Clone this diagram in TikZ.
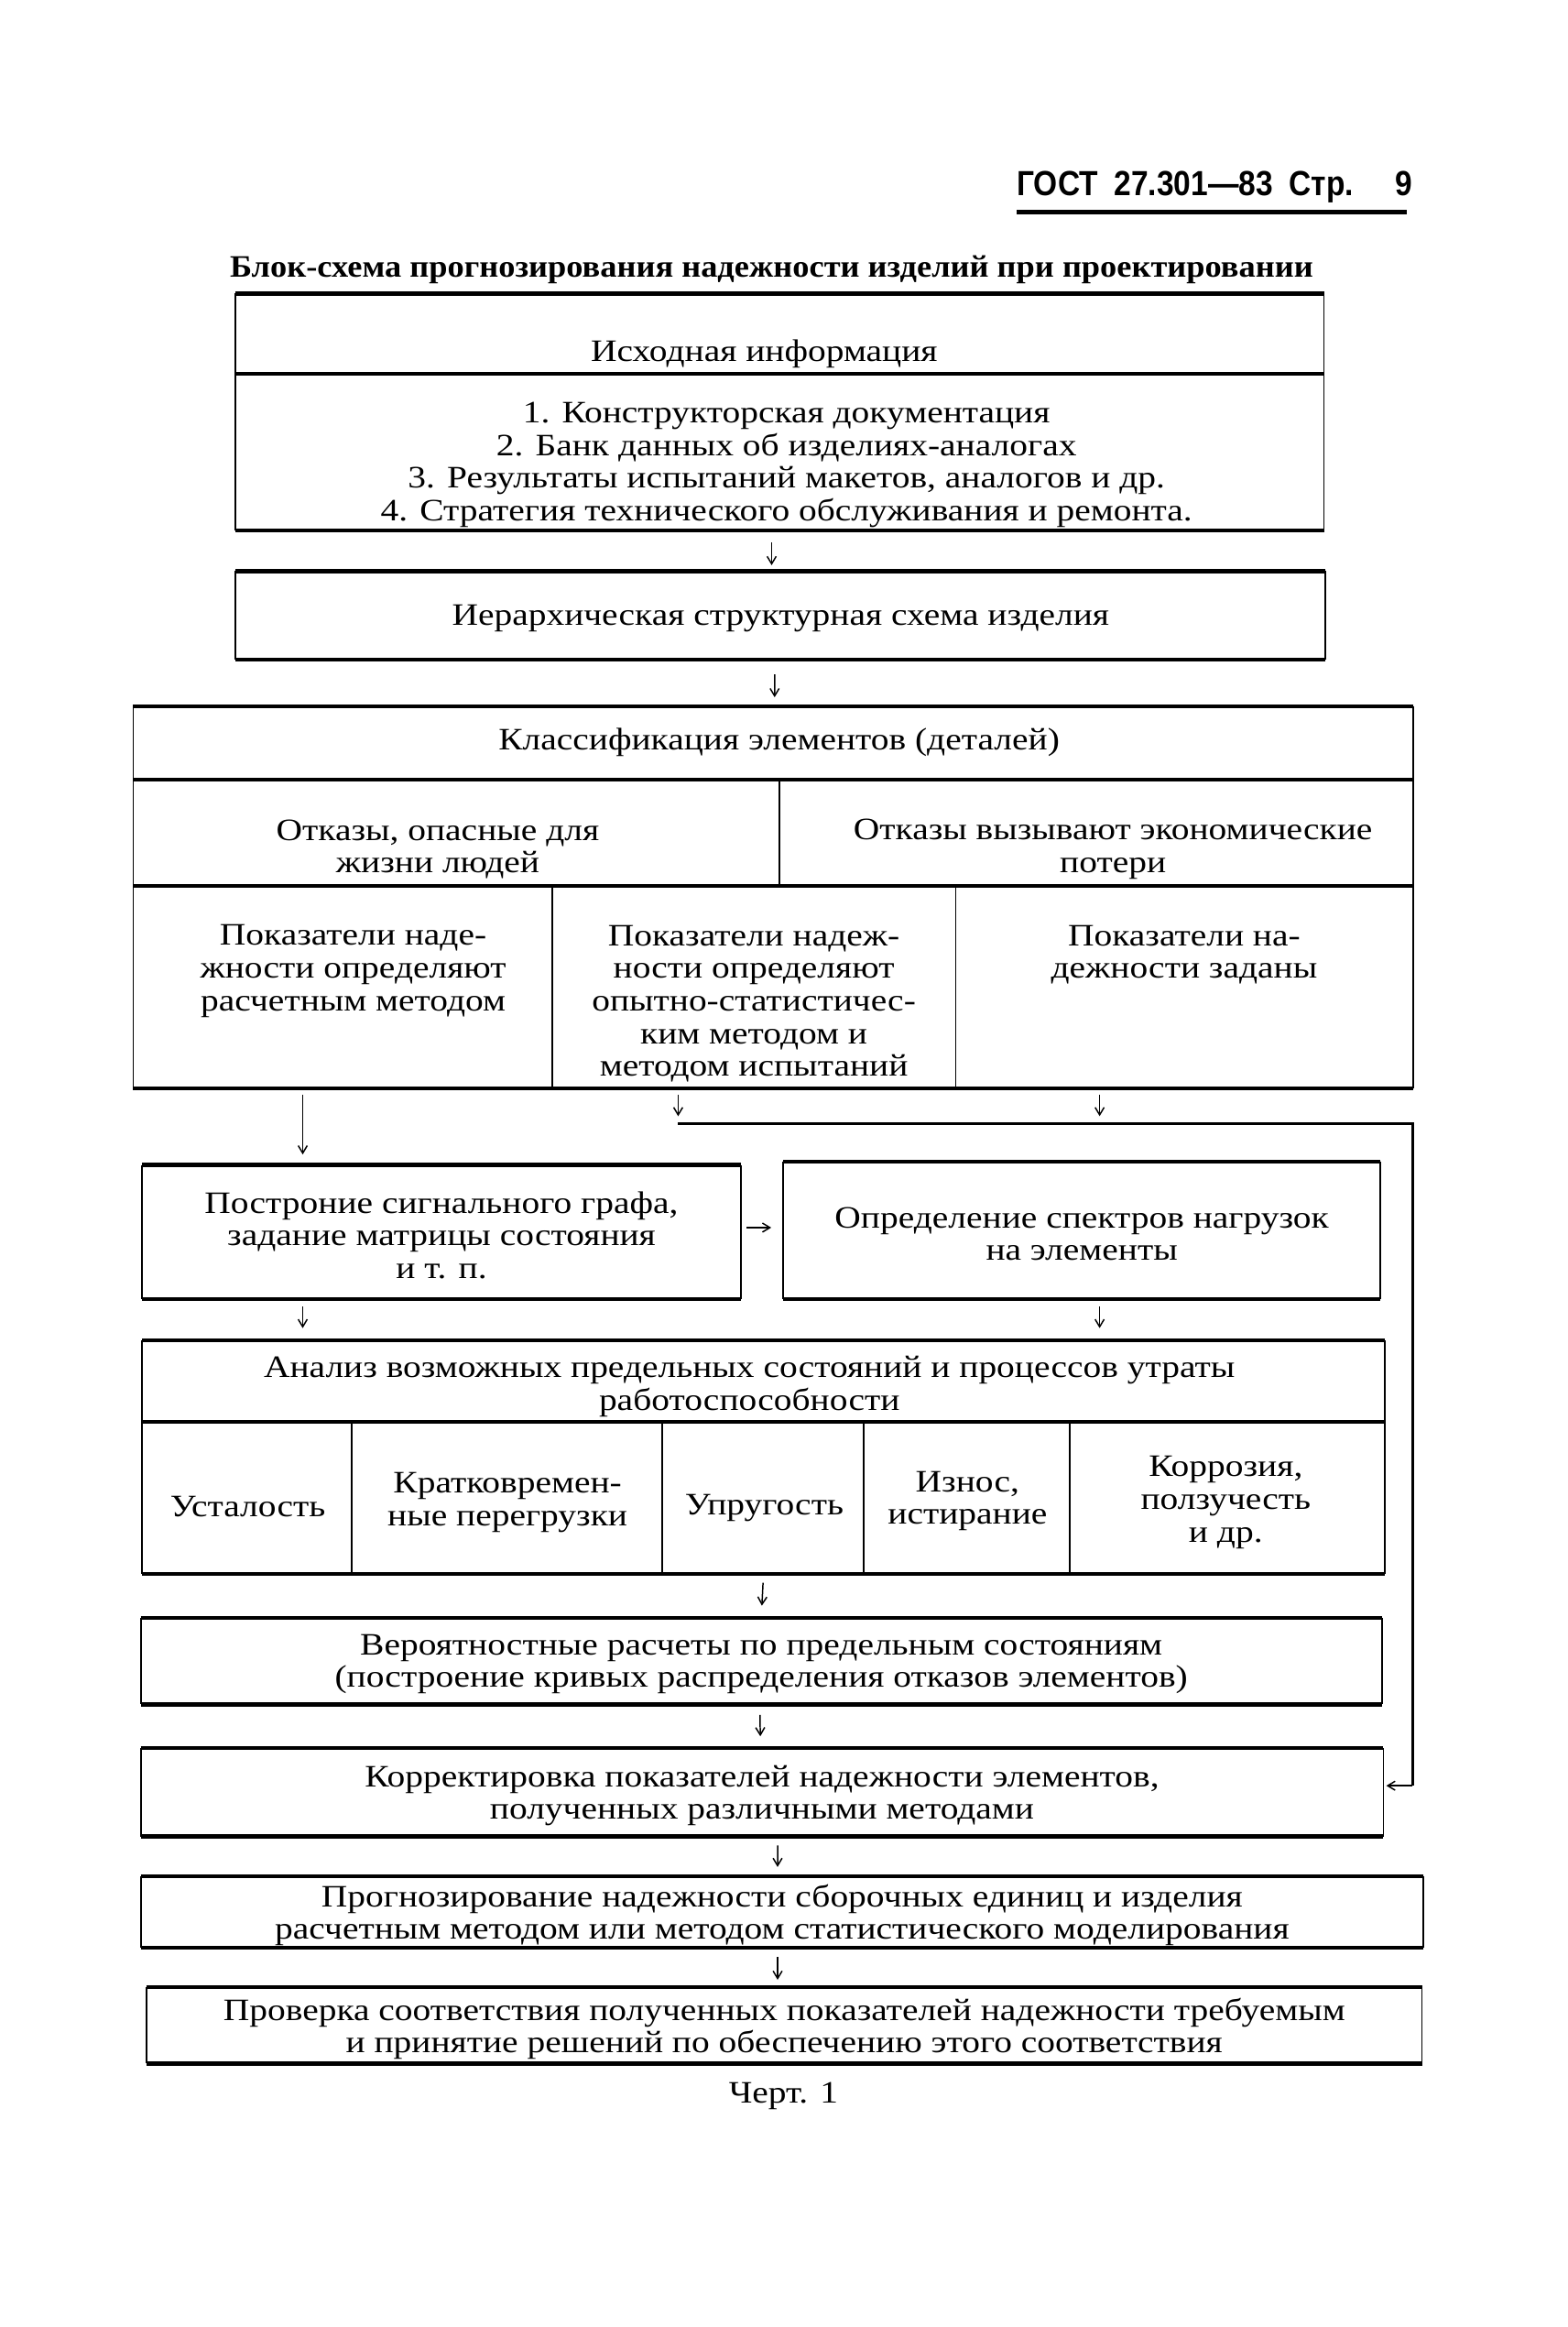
\documentclass[tikz,border=0pt]{standalone}
\usepackage{fontspec}
\usepackage{graphicx}
\usetikzlibrary{arrows.meta}
\setmainfont{Liberation Serif}
\newfontfamily\bodyf[FakeStretch=1.16]{Liberation Serif}
\newfontfamily\titlef[FakeStretch=1.07]{Liberation Serif}
\newfontfamily\headf[FakeStretch=0.88]{Liberation Sans}
\newcommand\gostframe[1]{%
  \draw[hl] (#1.north west) -- (#1.north east);
  \draw[hl] (#1.south west) -- (#1.south east);
  \draw[vl] (#1.north west) -- (#1.south west);
  \draw[vl] (#1.north east) -- (#1.south east);}
\begin{document}
\begin{tikzpicture}[x=1pt,y=-1pt,scale=0.99,transform shape,
  hl/.style={line width=2.6pt},
  vl/.style={line width=1.1pt},
  arr/.style={line width=0.9pt,-{Straight Barb[length=5pt,width=6pt]}},
  txt/.style={font=\bodyf\fontsize{21}{22}\selectfont, align=center, inner sep=0pt},
  lbl/.style={txt, yshift=-2.2pt},
  frm/.style={draw=none, inner sep=0pt}]
\fill[white] (0,0) rectangle (1056.57,1567.68);
\useasboundingbox (0,0) rectangle (1056.57,1567.68);

% guide coordinates
\coordinate (xL) at (204,0);
\coordinate (xM) at (457,0);
\coordinate (xR) at (741,0);

% header
\node[anchor=base east, inner sep=0pt, font=\headf\bfseries\fontsize{23.5}{26}\selectfont] (hdr) at (952,132) {ГОСТ\hspace{11pt}27.301—83\hspace{11pt}Стр.\hspace{28pt}9};
\draw[line width=3pt] (hdr.west |- 0,143) -- (948,143);
\node[inner sep=0pt, font=\titlef\bfseries\fontsize{21}{24}\selectfont] (title) at (520,182) {Блок-схема прогнозирования надежности изделий при проектировании};

% box A
\node[frm, minimum width=733pt, minimum height=159pt] (boxA) at (525.5,277.5) {};
\gostframe{boxA}
\draw[hl] (boxA.west |- 0,252) -- (boxA.east |- 0,252);
\node[lbl] (tA1) at (515,236) {Исходная информация};
\node[lbl] (tA2) at (530,311) {1. Конструкторская документация\\2. Банк данных об изделиях-аналогах\\3. Результаты испытаний макетов, аналогов и др.\\4. Стратегия технического обслуживания и ремонта.};

% box B
\node[frm, minimum width=734pt, minimum height=59pt] (boxB) at (526,414.5) {};
\gostframe{boxB}
\node[lbl] (tB) at (boxB.center) {Иерархическая структурная схема изделия};

% box C
\node[frm, minimum width=862pt, minimum height=257pt] (boxC) at (521,604.5) {};
\gostframe{boxC}
\draw[hl] (boxC.west |- 0,525) -- (boxC.east |- 0,525);
\draw[hl] (boxC.west |- 0,597) -- (boxC.east |- 0,597);
\draw[vl] (525,525) -- (525,597);
\draw[vl] (372,597) -- (372,733);
\draw[vl] (644,597) -- (644,733);
\node[lbl] (tC1) at (525,498) {Классификация элементов (деталей)};
\node[lbl] (tC2) at (295,570) {Отказы, опасные для\\жизни людей};
\node[lbl] (tC3) at (750,570) {Отказы вызывают экономические\\потери};
\node[lbl] (tC4) at (238,652) {Показатели наде-\\жности определяют\\расчетным методом};
\node[lbl] (tC5) at (508,674) {Показатели надеж-\\ности определяют\\опытно-статистичес-\\ким методом и\\методом испытаний};
\node[lbl] (tC6) at (798,641) {Показатели на-\\дежности заданы};

% boxes D, E
\node[frm, minimum width=403pt, minimum height=90pt] (boxD) at (297.5,830) {};
\gostframe{boxD}
\node[lbl] (tD) at (boxD.center) {Построние сигнального графа,\\задание матрицы состояния\\и т. п.};
\node[frm, minimum width=402pt, minimum height=92pt] (boxE) at (729,829) {};
\gostframe{boxE}
\node[lbl] (tE) at (boxE.center) {Определение спектров нагрузок\\на элементы};

% box F
\node[frm, minimum width=837pt, minimum height=157pt] (boxF) at (514.5,981.5) {};
\gostframe{boxF}
\draw[hl] (boxF.west |- 0,958) -- (boxF.east |- 0,958);
\foreach \xx in {237,446,582,721} \draw[vl] (\xx,958) -- (\xx,1060);
\node[lbl] (tF0) at (505,932) {Анализ возможных предельных состояний и процессов утраты\\работоспособности};
\node[lbl] (tF1) at (167,1013) {Усталость};
\node[lbl] (tF2) at (342,1010) {Кратковремен-\\ные перегрузки};
\node[lbl] (tF3) at (515,1014) {Упругость};
\node[lbl] (tF4) at (652,1009) {Износ,\\истирание};
\node[lbl] (tF5) at (826,1010) {Коррозия,\\ползучесть\\и др.};

% box G
\node[frm, minimum width=836pt, minimum height=58pt] (boxG) at (513,1119) {};
\gostframe{boxG}
\node[lbl] (tG) at (boxG.center) {Вероятностные расчеты по предельным состояниям\\(построение кривых распределения отказов элементов)};
% box H
\node[frm, minimum width=837pt, minimum height=59pt] (boxH) at (513.5,1207.5) {};
\gostframe{boxH}
\node[lbl] (tH) at (boxH.center) {Корректировка показателей надежности элементов,\\полученных различными методами};
% box I
\node[frm, minimum width=864pt, minimum height=48pt] (boxI) at (527,1288) {};
\gostframe{boxI}
\node[lbl] (tI) at (boxI.center) {Прогнозирование надежности сборочных единиц и изделия\\расчетным методом или методом статистического моделирования};
% box J
\node[frm, minimum width=859pt, minimum height=51pt] (boxJ) at (528.5,1364.5) {};
\gostframe{boxJ}
\node[lbl] (tJ) at (boxJ.center) {Проверка соответствия полученных показателей надежности требуемым\\и принятие решений по обеспечению этого соответствия};

\node[lbl] (cap) at (528,1410) {Черт. 1};

% connectors
\draw[arr, shorten <=8pt, shorten >=4pt] ([xshift=-5.5pt]boxA.south) -- ([xshift=-6pt]boxB.north);
\draw[arr, shorten <=10pt, shorten >=6pt] ([xshift=-4pt]boxB.south) -- ([xshift=1pt]boxC.north);
\draw[arr, shorten <=4pt, shorten >=7pt] (boxC.south -| xL) -- (boxD.north -| xL);
\coordinate (bus1) at (457,757);
\coordinate (bus2) at (952,757);
\coordinate (bus3) at (952,1203);
\draw[arr, shorten <=4pt, shorten >=5pt] (boxC.south -| xM) -- (bus1);
\draw[arr, shorten <=4pt, shorten >=5pt] (boxC.south -| xR) -- (xR |- bus1);
\draw[line width=1.6pt] (bus1) -- (bus2) -- (bus3);
\draw[arr, shorten >=2pt] (bus3) -- (boxH.east |- bus3);
\draw[arr, shorten <=4pt, shorten >=8pt] ([yshift=3pt]boxD.east) -- ([yshift=3pt]boxD.east -| boxE.west);
\draw[arr, shorten <=5pt, shorten >=8pt] (boxD.south -| xL) -- (boxF.north -| xL);
\draw[arr, shorten <=5pt, shorten >=8pt] (boxE.south -| xR) -- (boxF.north -| xR);
\draw[arr, shorten <=6pt, shorten >=8pt] (boxF.south) -- (boxG.north);
\draw[arr, shorten <=7pt, shorten >=8pt] ([xshift=-1pt]boxG.south) -- ([xshift=-1pt]boxH.north);
\draw[arr, shorten <=6pt, shorten >=6pt] ([xshift=10.5pt]boxH.south) -- ([xshift=-3pt]boxI.north);
\draw[arr, shorten <=6pt, shorten >=5pt] ([xshift=-3pt]boxI.south) -- ([xshift=-4.5pt]boxJ.north);
\end{tikzpicture}
\end{document}
